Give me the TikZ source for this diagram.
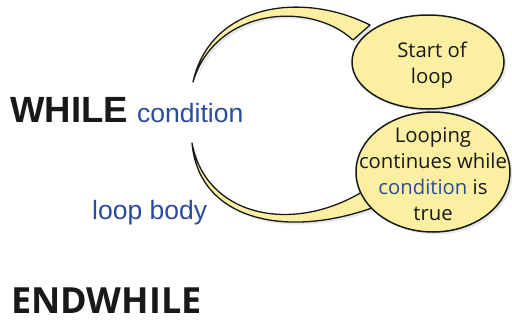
\documentclass[tikz,border=0pt]{standalone}
\usepackage{fontspec}
\usetikzlibrary{shapes.geometric,shadows}
\newfontfamily\labelfont{Open Sans}
\newfontfamily\codefont{Liberation Sans}
\definecolor{calloutfill}{RGB}{251,240,162}
\definecolor{codeblue}{RGB}{43,76,155}
\tikzset{
  softshadow/.style={drop shadow={opacity=0.18, shadow xshift=2.5pt, shadow yshift=-2.5pt}},
  bubble/.style={ellipse, draw=black!90, line width=1.5pt, fill=calloutfill, inner sep=0pt, softshadow},
  tail/.style={draw=black!90, line width=1.3pt, fill=calloutfill, line join=round, softshadow},
  keyword/.style={anchor=base west, inner sep=0pt, text=black!90},
  placeholder/.style={anchor=base west, inner sep=0pt, text=codeblue,
    font=\codefont\fontsize{26.5}{30}\selectfont},
  bubbletext/.style={align=center, inner sep=0pt, text=black!90, anchor=base,
    font=\labelfont\fontsize{20.3}{26}\selectfont},
}
\begin{document}
\begin{tikzpicture}[x=1pt, y=-1pt]
  \useasboundingbox (0,0) rectangle (512,322);

  % pseudo-code lines
  \node[keyword, font=\codefont\bfseries\fontsize{36.5}{40}\selectfont] (while) at (10,122) {WHILE};
  \node[placeholder] (cond) at (137,122) {condition};
  \node[placeholder] (body) at (92,219) {loop body};
  \node[keyword, font=\labelfont\bfseries\fontsize{36}{40}\selectfont] (endwhile) at (11,313) {ENDWHILE};

  % tips of the two callout tails
  \coordinate (tipA) at (193,82);
  \coordinate (tipB) at (192,143);

  % tail of the upper callout
  \path[tail] (tipA) .. controls (210,5) and (300,-10) .. (370,25)
              -- (353,40) .. controls (310,0) and (215,8) .. (tipA) -- cycle;
  % tail of the lower callout
  \path[tail] (tipB) .. controls (199,222) and (290,240) .. (380,205)
              -- (362,192) .. controls (290,235) and (205,215) .. (tipB) -- cycle;

  % callout bubbles
  \node[bubble, minimum width=152pt, minimum height=94pt] (start) at (428,62) {};
  \node[bubble, minimum width=154pt, minimum height=120pt] (looping) at (433,172) {};

  % bubble texts, placed by the baseline of their last line
  \node[bubbletext] (starttext) at (432,83) {Start of\\loop};
  \node[bubbletext] (loopingtext) at (433,220)
    {Looping\\continues while\\\textcolor{codeblue}{condition} is\\true};
\end{tikzpicture}
\end{document}
